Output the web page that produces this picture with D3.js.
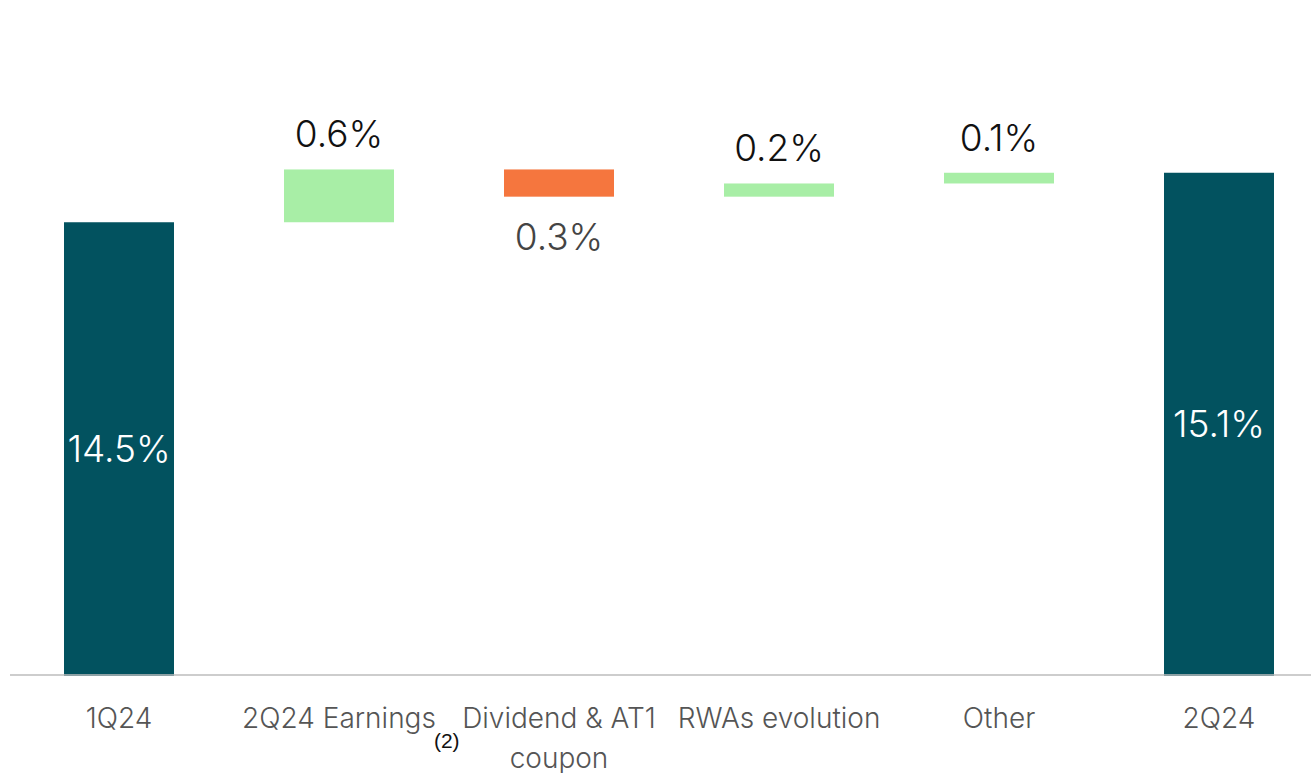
<!DOCTYPE html>
<html>
<head>
<meta charset="utf-8">
<script src="https://cdn.jsdelivr.net/npm/d3@7"></script>
<style>
  body { margin: 0; background: #fff; }
  svg { display: block; font-family: Inter, "Noto Sans", sans-serif; }
</style>
</head>
<body>
<div id="chart"></div>
<script>
// CET1 ratio walk, 1Q24 -> 2Q24 (values in %)
var categories = ["1Q24", "2Q24 Earnings", "Dividend & AT1 coupon", "RWAs evolution", "Other", "2Q24"];
var categoryLines = [["1Q24"], ["2Q24 Earnings"], ["Dividend & AT1", "coupon"], ["RWAs evolution"], ["Other"], ["2Q24"]];
var footnotes = ["", "(2)", "", "", "", ""];
var startValue = 14.5;
var deltas = [0.64, -0.33, 0.16, 0.13];
var endValue = 15.1;
var titleNote = "(1)";

const WIDTH = 1311;
const HEIGHT = 773;

var TEAL = "#02525F";
var GREEN = "#A8EEA6";
var ORANGE = "#F5763E";

// build the steps
var steps = [];
var running = startValue;
steps.push({cat: categories[0], y0: 9, y1: startValue, kind: "total", value: startValue});
deltas.forEach(function(d, i) {
    steps.push({cat: categories[i + 1], y0: running, y1: running + d, kind: d >= 0 ? "up" : "down", value: d});
    running += d;
});
steps.push({cat: categories[5], y0: 9, y1: endValue, kind: "total", value: endValue});

var x = d3.scaleBand()
    .domain(categories)
    .range([9, 1329])
    .paddingInner(0.5)
    .paddingOuter(0.25);

var y = d3.scaleLinear()
    .domain([9, 17])
    .range([676, 16]);

var fmt = d3.format(".1f");

var svg = d3.select("#chart").append("svg")
    .attr("width", WIDTH)
    .attr("height", HEIGHT);

// title is mostly cut off, only its note peeks in
svg.append("text")
    .attr("x", 549)
    .attr("y", -3)
    .attr("text-anchor", "middle")
    .attr("font-size", 18)
    .attr("fill", "#555")
    .text(titleNote);

svg.selectAll("rect.bar")
    .data(steps)
    .enter().append("rect")
    .attr("class", "bar")
    .attr("x", function(d) { return x(d.cat); })
    .attr("width", x.bandwidth())
    .attr("y", function(d) { return y(Math.max(d.y0, d.y1)); })
    .attr("height", function(d) { return Math.abs(y(d.y0) - y(d.y1)); })
    .attr("fill", function(d) {
        return d.kind == "total" ? TEAL : (d.kind == "up" ? GREEN : ORANGE);
    });

// axis
var axis = svg.append("g")
    .attr("transform", "translate(0,675)")
    .call(d3.axisBottom(x).tickSize(0).tickPadding(0));
axis.select(".domain").remove();
axis.append("line")
    .attr("x1", 10).attr("x2", WIDTH)
    .attr("stroke", "#bdbdbd").attr("stroke-width", 1.5);

axis.selectAll(".tick text").each(function(c) {
    var i = categories.indexOf(c);
    var t = d3.select(this)
        .text(null)
        .attr("y", 0)
        .attr("dy", null)
        .attr("fill", "#555")
        .attr("font-size", 28)
        .attr("font-weight", 300)
        .attr("font-family", "Inter, sans-serif");
    categoryLines[i].forEach(function(line, k) {
        t.append("tspan")
            .attr("x", 0)
            .attr("y", 53 + k * 40)
            .text(line);
    });
    if (footnotes[i]) {
        var w = t.node().getComputedTextLength();
        d3.select(this.parentNode).append("text")
            .attr("x", w / 2 - 2)
            .attr("y", 73)
            .attr("font-size", 21)
            .attr("fill", "#111")
            .attr("text-anchor", "start")
            .text(footnotes[i]);
    }
});

// value labels
svg.selectAll("text.val")
    .data(steps)
    .enter().append("text")
    .attr("class", "val")
    .attr("x", function(d) { return x(d.cat) + x.bandwidth() / 2; })
    .attr("y", function(d) {
        if (d.kind == "total") return (y(d.y0) + y(d.y1)) / 2 + 13;
        if (d.kind == "down") return y(Math.min(d.y0, d.y1)) + 53;
        return y(Math.max(d.y0, d.y1)) - 22;
    })
    .attr("text-anchor", "middle")
    .attr("font-size", 37)
    .attr("font-weight", 300)
    .attr("fill", function(d) {
        return d.kind == "total" ? "#fff" : (d.kind == "down" ? "#444" : "#111");
    })
    .text(function(d) { return fmt(Math.abs(d.value)) + "%"; });
</script>
</body>
</html>
